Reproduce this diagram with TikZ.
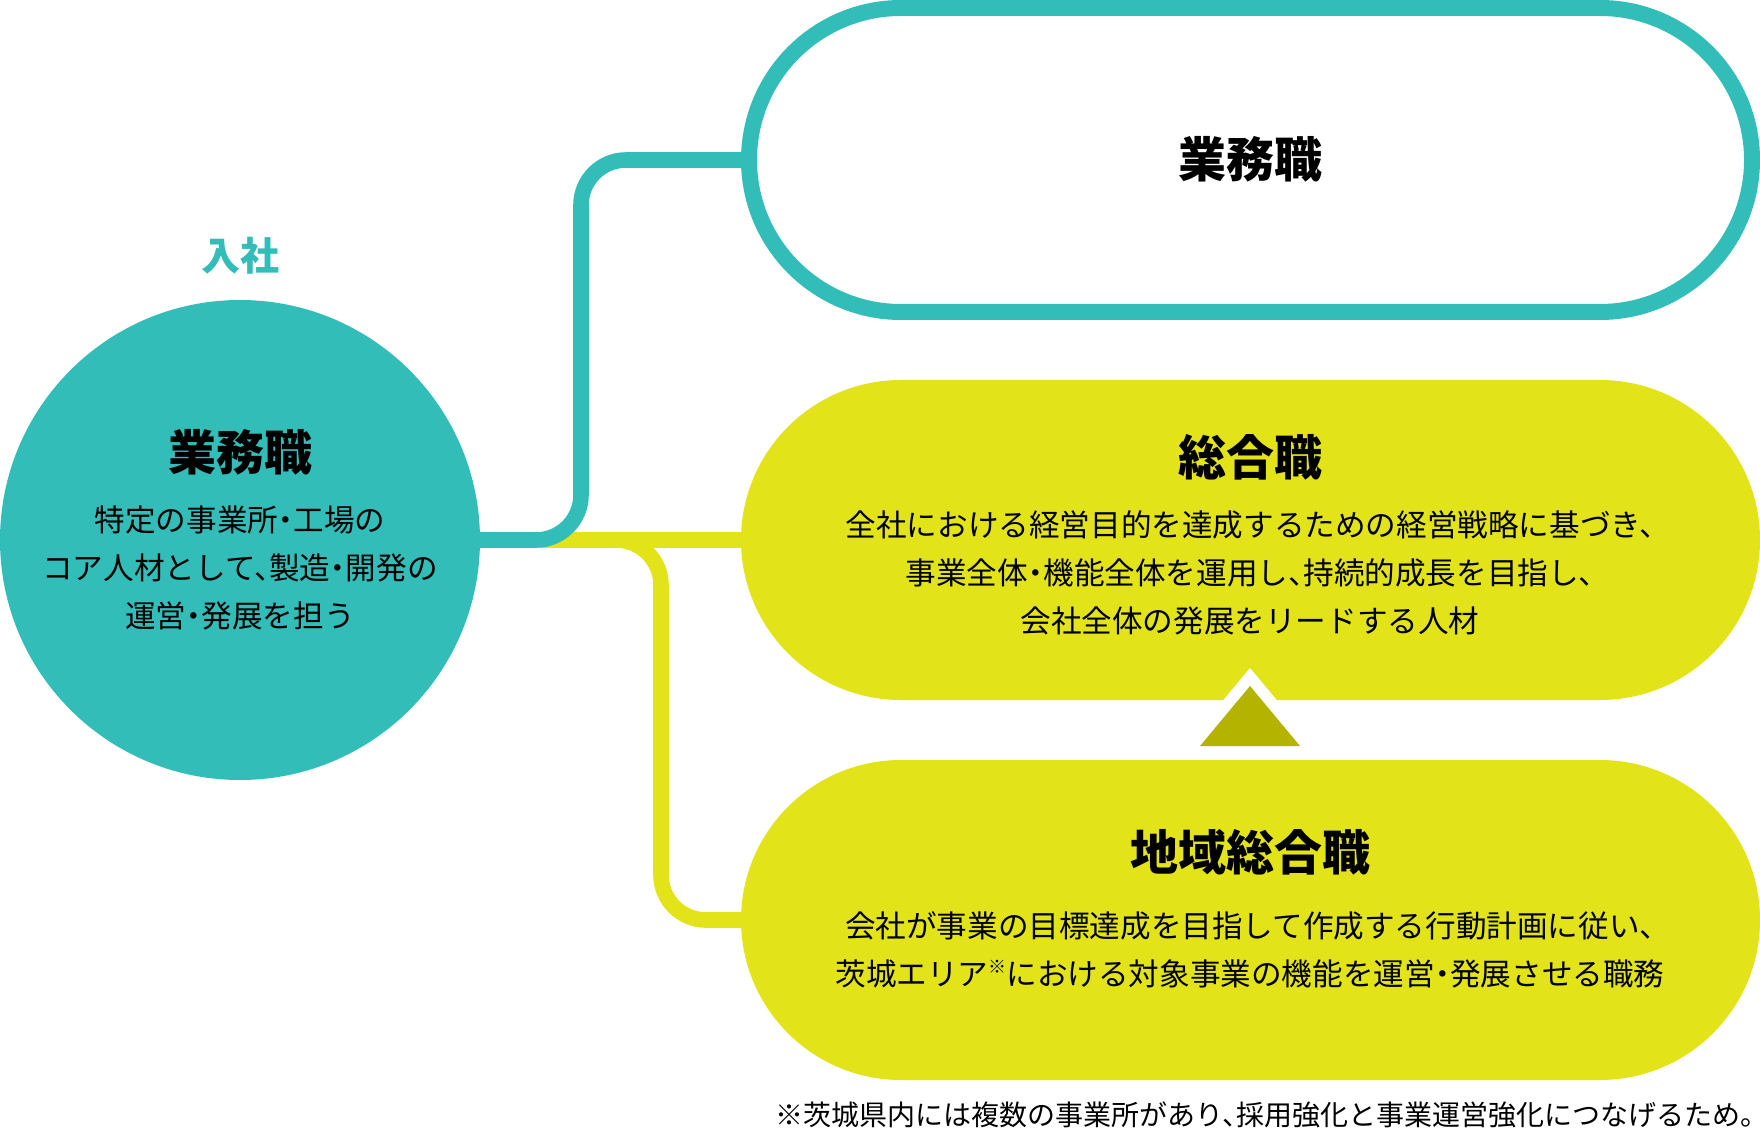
\documentclass[tikz,border=0pt]{standalone}
\usepackage{fontspec}
\setmainfont[RawFeature=+halt]{Noto Sans CJK JP}
\usepackage{xcolor}
\usepackage{tikz}
\usetikzlibrary{positioning}
\usetikzlibrary{calc}
\definecolor{tealc}{RGB}{51,189,185}
\definecolor{limec}{RGB}{227,227,26}
\definecolor{olivec}{RGB}{179,179,0}
\tikzstyle{head} = [font=\bfseries\fontsize{24pt}{24pt}\selectfont, text=black, inner sep=0pt]
\tikzstyle{body} = [font=\fontsize{15.3pt}{24pt}\selectfont, align=center, text=black, inner sep=0pt]
\tikzstyle{pill} = [rectangle, fill=limec, minimum width=509.5pt, minimum height=160pt, rounded corners=80pt, outer sep=0pt, inner sep=0pt]
\tikzstyle{link} = [line width=7.8pt, rounded corners=22.5pt]

\begin{document}
\begin{tikzpicture}[x=0.5pt, y=-0.5pt]
\useasboundingbox (0,0) rectangle (1760,1138);
\node[circle, fill=tealc, minimum size=240pt, inner sep=0pt, outer sep=0pt] (circ) at (240,540) {};
\node[text=tealc, font=\bfseries\fontsize{19.5pt}{19.5pt}\selectfont, inner sep=0pt] (join) at (240,256) {入社};
\node[head] (ct) at (240,452) {業務職};
\node[body] (cb) at (240,568) {特定の事業所・工場の\\コア人材として、製造・開発の\\運営・発展を担う};
% right side
\node[rectangle, draw=tealc, line width=8pt, minimum width=501.5pt, minimum height=152pt, rounded corners=76pt, inner sep=0pt] (gyomu) at (1250.5,160) {};
\node[pill] (sogo) at (1250.5,540) {};
\node[pill] (chiiki) at (1250.5,920) {};
\node[head] (gt) at (1250,159) {業務職};
\node[head] (st) at (1250,457) {総合職};
\node[body] (sb) at (1250,573) {全社における経営目的を達成するための経営戦略に基づき、\\事業全体・機能全体を運用し、持続的成長を目指し、\\会社全体の発展をリードする人材};
\node[head] (kt) at (1250,852) {地域総合職};
\node[body] (kb) at (1250,950) {会社が事業の目標達成を目指して作成する行動計画に従い、\\茨城エリア{\fontsize{9pt}{9pt}\selectfont\raisebox{6pt}{※}}における対象事業の機能を運営・発展させる職務};
\node[font=\fontsize{14pt}{14pt}\selectfont, anchor=west, inner sep=0pt] (note) at (775,1115) {※茨城県内には複数の事業所があり、採用強化と事業運営強化につなげるため。};
% connectors
\path[draw=limec, link] (circ.east) -- (sogo.west);
\path[draw=limec, link] (circ.east) -- ++(181,0) |- (chiiki.west);
\path[draw=tealc, link] (circ.east) -- ++(101,0) |- (gyomu.west);
% step up mark
\fill[white] (1185,746) -- (1250,668) -- (1315,746) -- cycle;
\fill[olivec] (1200,746) -- (1250,686) -- (1300,746) -- cycle;
\end{tikzpicture}
\end{document}
